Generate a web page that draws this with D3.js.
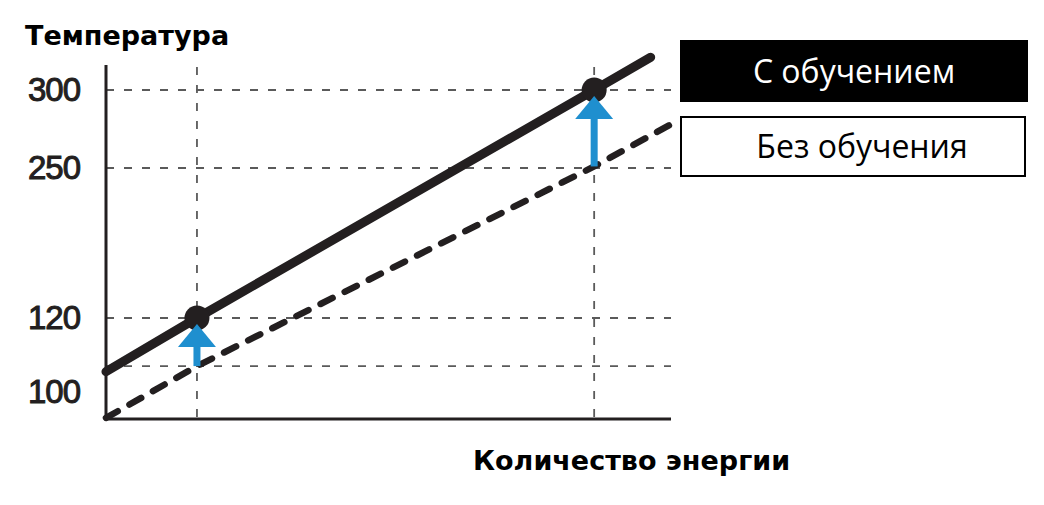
<!DOCTYPE html>
<html><head><meta charset="utf-8">
<script src="https://cdn.jsdelivr.net/npm/d3@7"></script>
<style>body{margin:0;background:#fff}svg{display:block}</style>
</head><body>
<svg id="c" width="1044" height="505"></svg>
<script>
// ---- data ----
const yTickValues = [100, 120, 250, 300];
const yTickLabels = ["100", "120", "250", "300"];
const gridTemps = [107, 120, 250, 300];
const energyLevels = [16.1, 86.4];
const withLearning = [[0, 105.5], [16.1, 120], [86.4, 300], [96.4, 321]];
const withoutLearning = [[0, 93], [16.1, 107], [86.4, 251], [100, 278]];
const pointsWith = [[16.1, 120], [86.4, 300]];
const pointsWithout = [[16.1, 107], [86.4, 251]];
const legendLabels = ["С обучением", "Без обучения"];
const yTitle = "Температура";
const xTitle = "Количество энергии";

// ---- layout ----
const svg = d3.select("#c");
const pL = 106, pR = 671, pT = 65, pB = 419;
const x = d3.scaleLinear().domain([0, 100]).range([pL, pR]);
const y = d3.scaleLinear().domain([100, 120, 250, 300]).range([392, 318, 168, 90]);
const ink = "#231f20", grid = "#5a5a5a";

// gridlines
svg.append("g").selectAll("line").data(gridTemps).join("line")
  .attr("x1", pL).attr("x2", pR).attr("y1", d => y(d)).attr("y2", d => y(d))
  .attr("stroke", grid).attr("stroke-width", 1.8).attr("stroke-dasharray", "8,10");
svg.append("g").selectAll("line").data(energyLevels).join("line")
  .attr("x1", d => x(d)).attr("x2", d => x(d)).attr("y1", pT + 2).attr("y2", pB)
  .attr("stroke", grid).attr("stroke-width", 1.8).attr("stroke-dasharray", "8,10");

// axes lines
svg.append("line").attr("x1", pL).attr("x2", pL).attr("y1", pT).attr("y2", pB + 1.5)
  .attr("stroke", ink).attr("stroke-width", 3);
svg.append("line").attr("x1", pL).attr("x2", pR).attr("y1", pB).attr("y2", pB)
  .attr("stroke", ink).attr("stroke-width", 3);

// tick labels via axis
const ya = svg.append("g").attr("transform", `translate(${pL},0)`)
  .call(d3.axisLeft(y).tickValues(yTickValues).tickSize(0).tickPadding(26)
    .tickFormat((d, i) => yTickLabels[i]));
ya.select(".domain").remove();
ya.selectAll("text").attr("font-family", "Liberation Sans, Arial, sans-serif")
  .attr("font-size", 33).attr("fill", ink).attr("stroke", ink).attr("stroke-width", 1)
  .attr("letter-spacing", -1);

// lines
const line = d3.line().x(d => x(d[0])).y(d => y(d[1]));
svg.append("path").attr("d", line(withoutLearning)).attr("fill", "none")
  .attr("stroke", ink).attr("stroke-width", 6.5).attr("stroke-linecap", "round")
  .attr("stroke-dasharray", "13.5,13.5");
svg.append("path").attr("d", line(withLearning)).attr("fill", "none")
  .attr("stroke", ink).attr("stroke-width", 9).attr("stroke-linecap", "round");

// points
svg.append("g").selectAll("circle").data(pointsWith).join("circle")
  .attr("cx", d => x(d[0])).attr("cy", d => y(d[1])).attr("r", 12.5).attr("fill", ink);

// arrows
const blue = "#1f8fcf";
const ag = svg.append("g");
pointsWith.forEach((p, i) => {
  const cx = x(p[0]);
  const tip = y(p[1]) + 6;
  const base = y(pointsWithout[i][1]);
  const headH = 23, headW = 19;
  ag.append("rect").attr("x", cx - 3.5).attr("width", 7)
    .attr("y", tip + headH - 1).attr("height", base - (tip + headH - 1)).attr("fill", blue);
  ag.append("path").attr("d", `M${cx},${tip} L${cx + headW},${tip + headH} L${cx - headW},${tip + headH} Z`)
    .attr("fill", blue);
});

// titles
svg.append("text").attr("x", 25).attr("y", 45).text(yTitle)
  .attr("font-family", "DejaVu Sans, sans-serif").attr("font-weight", "bold")
  .attr("font-size", 27).attr("fill", "#000");
svg.append("text").attr("x", 473).attr("y", 470).text(xTitle)
  .attr("font-family", "DejaVu Sans, sans-serif").attr("font-weight", "bold")
  .attr("font-size", 27).attr("fill", "#000");

// legend
const lg = svg.append("g");
lg.append("rect").attr("x", 680).attr("y", 40).attr("width", 348).attr("height", 62).attr("fill", "#000");
lg.append("text").attr("x", 854).attr("y", 83).attr("text-anchor", "middle").text(legendLabels[0])
  .attr("font-family", "Open Sans, sans-serif").attr("font-size", 32).attr("fill", "#fff");
lg.append("rect").attr("x", 681).attr("y", 117).attr("width", 344).attr("height", 59)
  .attr("fill", "#fff").attr("stroke", "#000").attr("stroke-width", 2);
lg.append("text").attr("x", 862).attr("y", 158).attr("text-anchor", "middle").text(legendLabels[1])
  .attr("font-family", "Open Sans, sans-serif").attr("font-size", 32).attr("fill", "#000");
</script>
</body></html>
